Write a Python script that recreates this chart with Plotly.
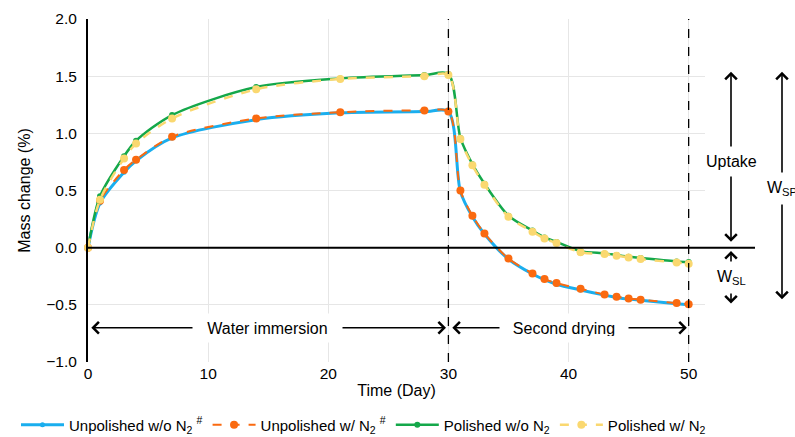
import plotly.graph_objects as go

days = [0, 1, 3, 4, 7, 14, 21, 28, 30, 31, 32, 33, 35, 37, 38, 39, 41, 43, 44, 45, 46, 49, 50]
unpol_wo = [0, 0.39, 0.66, 0.76, 0.96, 1.12, 1.18, 1.19, 1.19, 0.49, 0.27, 0.12, -0.10, -0.23,
            -0.28, -0.32, -0.37, -0.415, -0.435, -0.45, -0.46, -0.49, -0.50]
unpol_w = [0, 0.41, 0.68, 0.77, 0.97, 1.13, 1.185, 1.20, 1.19, 0.50, 0.28, 0.125, -0.095, -0.225,
           -0.275, -0.31, -0.36, -0.41, -0.43, -0.445, -0.455, -0.485, -0.495]
pol_wo = [0, 0.45, 0.80, 0.935, 1.16, 1.405, 1.48, 1.51, 1.52, 0.96, 0.73, 0.56, 0.28, 0.15,
          0.09, 0.05, -0.03, -0.05, -0.065, -0.08, -0.09, -0.12, -0.125]
pol_w = [0, 0.42, 0.78, 0.91, 1.13, 1.385, 1.475, 1.50, 1.51, 0.95, 0.72, 0.55, 0.27, 0.14,
         0.08, 0.04, -0.04, -0.055, -0.07, -0.085, -0.10, -0.13, -0.14]

names = ["Unpolished w/o N<sub>2</sub> <sup>#</sup>", "Unpolished w/ N<sub>2</sub> <sup>#</sup>",
         "Polished w/o N<sub>2</sub>", "Polished w/ N<sub>2</sub>"]
colors = ["#1AAEEE", "#FA6A10", "#14A84A", "#FAD870"]

FONT = "Arial, 'Liberation Sans', sans-serif"

fig = go.Figure()
series = [unpol_wo, unpol_w, pol_wo, pol_w]
styles = [
    dict(width=3, dash="solid", msize=5),
    dict(width=2, dash="dash", msize=8),
    dict(width=2.5, dash="solid", msize=6),
    dict(width=2.5, dash="dash", msize=8),
]
for vals, nm, col, st in zip(series, names, colors, styles):
    fig.add_trace(go.Scatter(
        x=days, y=vals, name=nm, mode="lines+markers",
        line=dict(color=col, width=st["width"], dash=st["dash"], shape="spline", smoothing=0.8),
        marker=dict(color=col, size=st["msize"]),
        cliponaxis=False,
    ))

L, R, T, B = 88, 90, 19, 75
W, H = 795, 437
pw = W - L - R
ph = H - T - B


def px_x(p):
    return (p - L) / pw


def px_y(p):
    return (H - B - p) / ph


shapes = []
for xv in [30, 50]:
    shapes.append(dict(type="line", xref="x", yref="paper", x0=xv, x1=xv, y0=0, y1=1,
                       line=dict(color="black", width=1.3, dash="dash")))
shapes.append(dict(type="line", xref="paper", yref="paper", x0=0, x1=px_x(755),
                   y0=1/3, y1=1/3, line=dict(color="black", width=2)))

ann = []
for x0, x1 in [(0.15, 29.8), (30.2, 49.85)]:
    ann.append(dict(x=x1, y=-0.7, ax=x0, ay=-0.7, xref="x", yref="y", axref="x", ayref="y",
                    text="", showarrow=True, arrowhead=4, startarrowhead=4, arrowside="end+start",
                    arrowsize=1.4, startarrowsize=1.4, arrowwidth=1.6, arrowcolor="black"))
ann.append(dict(x=14.9, y=-0.7, xref="x", yref="y", text="Water immersion", showarrow=False,
                bgcolor="white", width=137, height=16, borderpad=6,
                font=dict(size=16, color="black", family=FONT)))
ann.append(dict(x=39.65, y=-0.7, xref="x", yref="y", text="Second drying", showarrow=False,
                bgcolor="white", width=116, height=16, borderpad=6,
                font=dict(size=16, color="black", family=FONT)))

for xp, top, bot in [(731, 71.7, 243.3), (731, 251, 305), (782, 71.7, 300.7)]:
    ann.append(dict(x=px_x(xp), y=px_y(top), xref="paper", yref="paper", ax=0, ay=bot - top,
                    text="", showarrow=True, arrowhead=4, startarrowhead=4, arrowside="end+start",
                    arrowsize=1.4, startarrowsize=1.4, arrowwidth=1.6, arrowcolor="black"))
for xp, yp, txt in [(731, 161.5, "Uptake"), (731, 277, "W<sub>SL</sub>"),
                    (782, 188, "W<sub>SP</sub>")]:
    ann.append(dict(x=px_x(xp), y=px_y(yp), xref="paper", yref="paper", text=txt,
                    showarrow=False, bgcolor="white", borderpad=6, xanchor="center",
                    yanchor="middle", font=dict(size=16, color="black", family=FONT)))

fig.update_layout(
    width=W, height=H,
    margin=dict(l=L, r=R, t=T, b=B, autoexpand=False),
    plot_bgcolor="white", paper_bgcolor="white",
    font=dict(family=FONT, size=15, color="black"),
    showlegend=True,
    legend=dict(orientation="h", x=-0.1167, y=-0.1356, xanchor="left", yanchor="top",
                font=dict(size=15, family=FONT, color="black"), itemwidth=43,
                tracegroupgap=0),
    shapes=shapes, annotations=ann,
    xaxis=dict(range=[0, 51.36], tickvals=[0, 10, 20, 30, 40, 50], showgrid=True,
               gridcolor="#E6E6E6", gridwidth=1, zeroline=False, showline=False,
               ticks="", tickfont=dict(size=15.5, family=FONT, color="black"),
               title=dict(text="Time (Day)", font=dict(size=16, family=FONT, color="black"),
                          standoff=4)),
    yaxis=dict(range=[-1, 2], tickvals=[-1.0, -0.5, 0.0, 0.5, 1.0, 1.5, 2.0],
               ticktext=["\u22121.0", "\u22120.5", "0.0", "0.5", "1.0", "1.5", "2.0"],
               showgrid=True, gridcolor="#E6E6E6", gridwidth=1, zeroline=False,
               showline=True, linecolor="black", linewidth=2, ticks="",
               ticklabelstandoff=6,
               tickfont=dict(size=15.5, family=FONT, color="black"),
               title=dict(text="Mass change (%)", font=dict(size=16, family=FONT, color="black"),
                          standoff=12)),
)

fig.write_html("out.html", config={"displayModeBar": False},
               post_script="document.body.style.margin='0px';")
